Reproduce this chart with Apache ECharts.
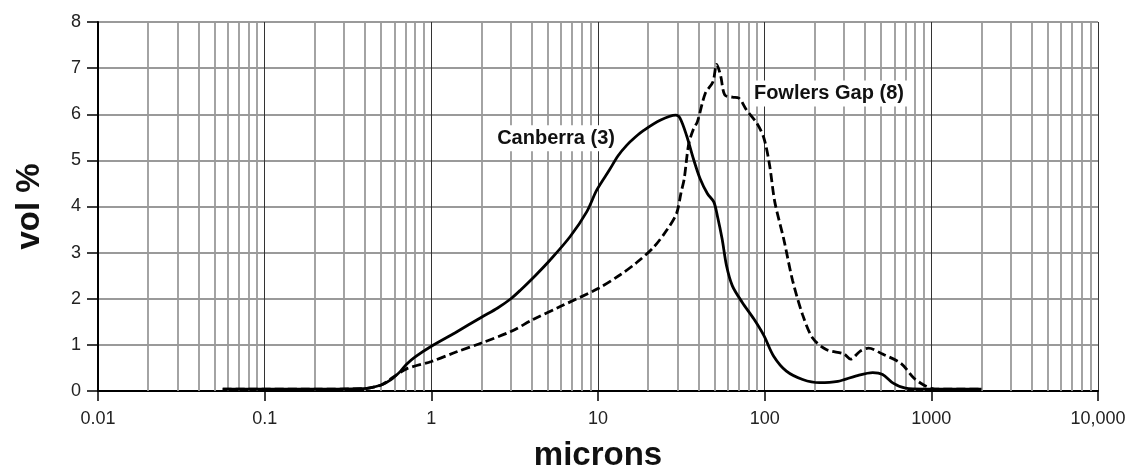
<!DOCTYPE html>
<html>
<head>
<meta charset="utf-8">
<script src="https://cdn.jsdelivr.net/npm/echarts@6/dist/echarts.min.js"></script>
<style>
  html, body { margin: 0; padding: 0; background: #fff; }
  #chart { width: 1128px; height: 473px; }
</style>
</head>
<body>
<div id="chart"></div>
<script>
  // particle size (microns) vs vol %
  const canberraSize = [0.056, 0.2, 0.39, 0.5, 0.57, 0.65, 0.71, 0.8, 1.0, 1.4, 2, 2.5, 3, 3.41, 4.2, 5.16, 6.81, 8.57, 9.84, 11.7, 13.2, 14.9, 16.7, 18.8, 23.6, 29.3, 31, 34, 37.4, 41, 45.3, 49.5, 52, 55.6, 59, 64, 73.4, 86.2, 99, 113, 135, 169, 213, 275, 355, 445, 510, 590, 700, 900, 2000]
  const canberraVol = [0.04, 0.04, 0.05, 0.13, 0.24, 0.42, 0.58, 0.74, 0.97, 1.27, 1.6, 1.8, 2.0, 2.18, 2.5, 2.84, 3.35, 3.89, 4.36, 4.79, 5.1, 5.33, 5.5, 5.65, 5.87, 5.98, 5.92, 5.54, 5.03, 4.6, 4.28, 4.1, 3.8, 3.29, 2.72, 2.28, 1.92, 1.56, 1.2, 0.76, 0.43, 0.25, 0.18, 0.21, 0.33, 0.4, 0.36, 0.17, 0.06, 0.04, 0.04]

  const fowlersSize = [0.056, 0.2, 0.39, 0.5, 0.59, 0.71, 1.0, 1.42, 2, 3, 4.08, 5.93, 10, 13.6, 17, 21.6, 26, 29.6, 31.5, 32.9, 35, 37.4, 39.5, 44, 48.9, 51.5, 54.4, 57.6, 64, 70, 77.6, 90, 99, 107, 115, 130, 147, 169, 194, 234, 300, 328, 373, 420, 510, 657, 785, 900, 1000, 1100, 2000]
  const fowlersVol = [0.04, 0.04, 0.05, 0.13, 0.3, 0.48, 0.64, 0.85, 1.04, 1.29, 1.55, 1.83, 2.22, 2.52, 2.78, 3.12, 3.5, 3.85, 4.3, 4.6, 5.35, 5.68, 5.84, 6.45, 6.7, 7.08, 6.84, 6.42, 6.37, 6.35, 6.1, 5.8, 5.48, 4.9, 4.1, 3.3, 2.4, 1.65, 1.15, 0.9, 0.8, 0.69, 0.86, 0.93, 0.8, 0.6, 0.28, 0.13, 0.06, 0.04, 0.04]

  const decades = [0.01, 0.1, 1, 10, 100, 1000]
  const minorSteps = [2, 3, 4, 5, 6, 7, 8, 9]

  const zip = (xs, ys) => xs.map((x, i) => [x, ys[i]])

  let minorLines = []
  decades.forEach(d => {
    minorSteps.forEach(m => {
      minorLines.push({xAxis: +(d * m).toPrecision(3)})
    })
  })

  const font = '"Liberation Sans", Arial, Helvetica, sans-serif'

  const chart = echarts.init(document.getElementById('chart'))
  chart.setOption({
    animation: false,
    textStyle: {fontFamily: font},
    grid: {left: 98, right: 30, top: 22, bottom: 82, outerBoundsMode: 'none', containLabel: false},
    xAxis: {
      type: 'log',
      logBase: 10,
      min: 0.01,
      max: 10000,
      name: 'microns',
      nameLocation: 'middle',
      nameGap: 48,
      nameTextStyle: {fontSize: 33, fontWeight: 'bold', color: '#111', fontFamily: font},
      axisLine: {lineStyle: {color: '#000', width: 2}},
      axisTick: {show: true, length: 10, lineStyle: {color: '#000', width: 1.5}},
      axisLabel: {
        margin: 19,
        fontSize: 18,
        color: '#222',
        fontFamily: font,
        formatter: v => v >= 10000 ? '10,000' : String(v)
      },
      splitLine: {show: true, lineStyle: {color: '#333', width: 1}}
    },
    yAxis: {
      type: 'value',
      min: 0,
      max: 8,
      interval: 1,
      name: 'vol %',
      nameLocation: 'middle',
      nameGap: 52,
      nameTextStyle: {fontSize: 33, fontWeight: 'bold', color: '#111', fontFamily: font},
      axisLine: {show: true, lineStyle: {color: '#000', width: 2}},
      axisTick: {show: true, length: 11, lineStyle: {color: '#000', width: 1.5}},
      axisLabel: {margin: 17, fontSize: 18, color: '#222', fontFamily: font},
      splitLine: {show: true, lineStyle: {color: '#9a9a9a', width: 1.8}}
    },
    series: [
      {
        name: 'Canberra (3)',
        type: 'line',
        data: zip(canberraSize, canberraVol),
        smooth: 0.3,
        showSymbol: false,
        lineStyle: {color: '#000', width: 2.8},
        markLine: {
          silent: true,
          z: 1,
          symbol: ['none', 'none'],
          label: {show: false},
          lineStyle: {color: '#9a9a9a', width: 1.8, type: 'solid'},
          data: minorLines
        },
        markPoint: {
          silent: true,
          symbol: 'rect',
          symbolSize: 1,
          itemStyle: {color: 'rgba(0,0,0,0)'},
          label: {
            show: true,
            position: 'inside',
            formatter: 'Canberra (3)',
            fontSize: 20,
            fontWeight: 'bold',
            color: '#111',
            backgroundColor: '#fff',
            padding: [3, 4]
          },
          data: [{coord: [5.6, 5.48]}]
        }
      },
      {
        name: 'Fowlers Gap (8)',
        type: 'line',
        data: zip(fowlersSize, fowlersVol),
        smooth: 0.3,
        showSymbol: false,
        lineStyle: {color: '#000', width: 2.8, type: [9, 4]},
        markPoint: {
          silent: true,
          symbol: 'rect',
          symbolSize: 1,
          itemStyle: {color: 'rgba(0,0,0,0)'},
          label: {
            show: true,
            position: 'inside',
            formatter: 'Fowlers Gap (8)',
            fontSize: 20,
            fontWeight: 'bold',
            color: '#111',
            backgroundColor: '#fff',
            padding: [3, 4]
          },
          data: [{coord: [243, 6.45]}]
        }
      }
    ]
  })
</script>
</body>
</html>
